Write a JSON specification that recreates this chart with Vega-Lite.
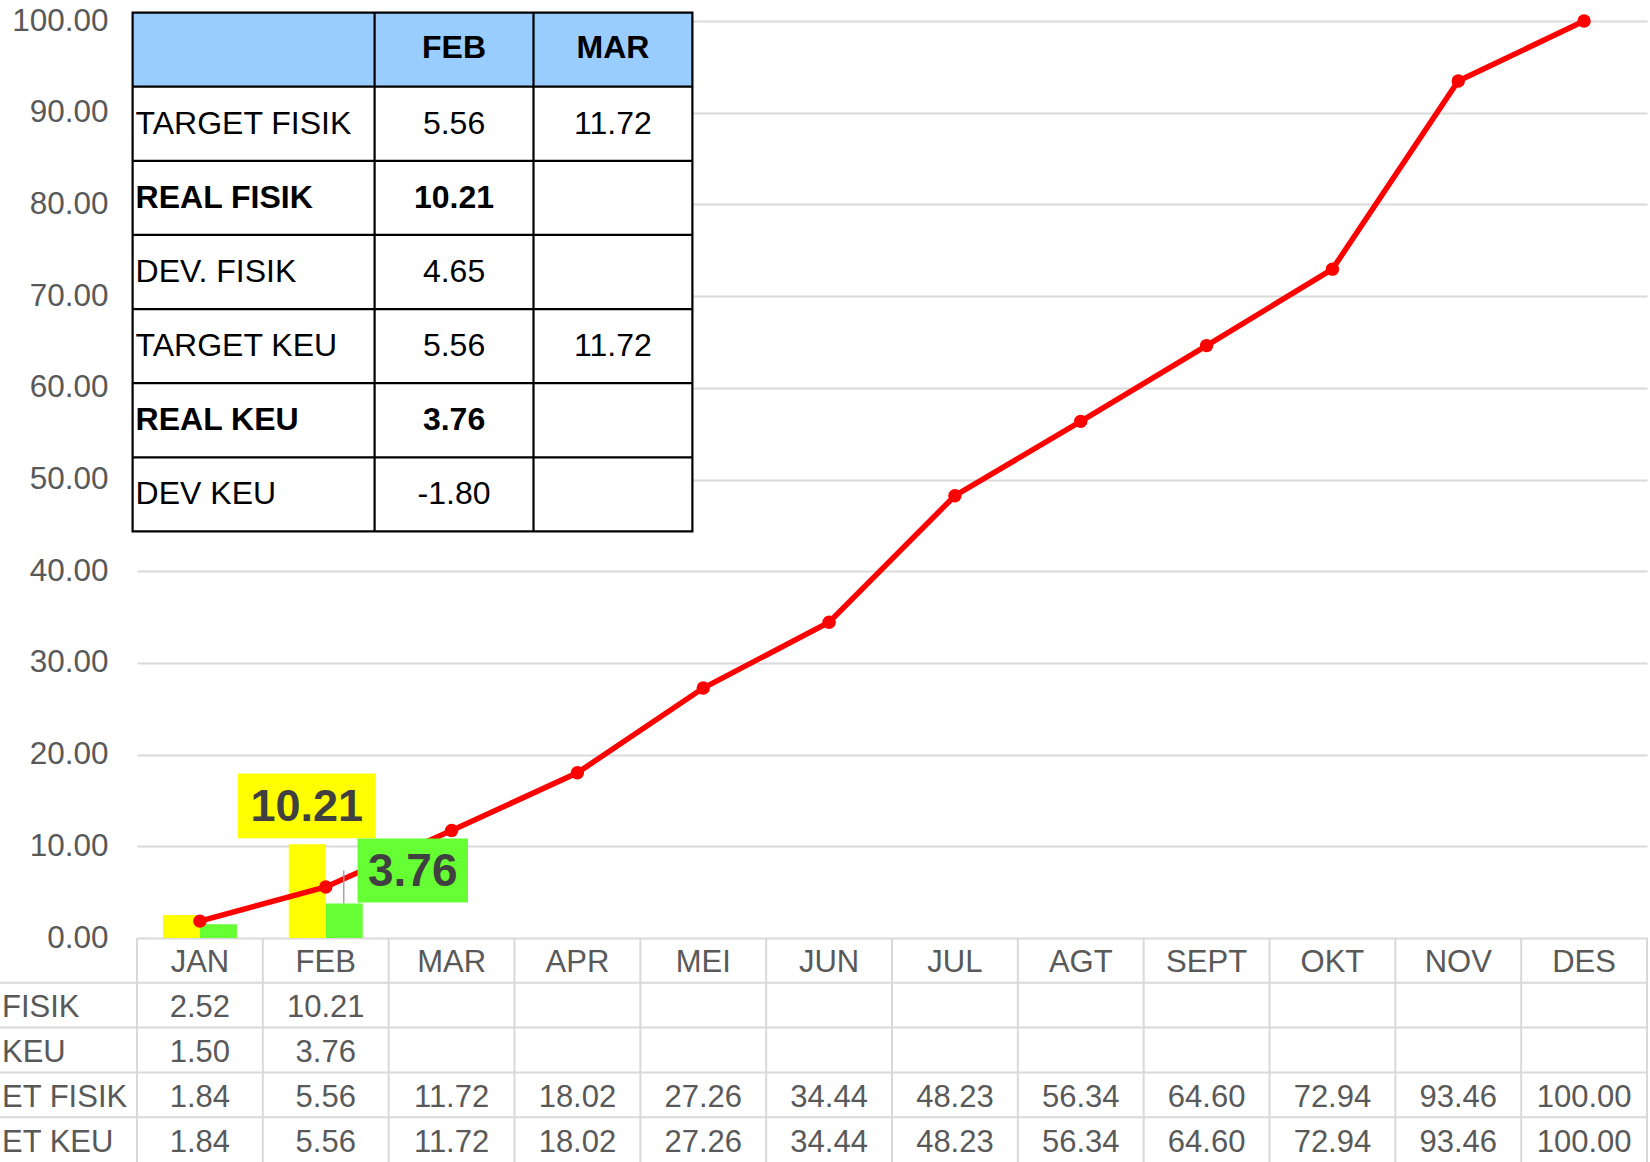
{
  "$schema": "https://vega.github.io/schema/vega-lite/v6.json",
  "width": 1510,
  "height": 1141,
  "autosize": {"type": "none"},
  "padding": {"left": 137, "top": 21, "right": 3, "bottom": 0},
  "background": "#ffffff",
  "config": {
    "view": {"stroke": null},
    "font": "Liberation Sans",
    "locale": {"number": {"decimal": ".", "thousands": ",", "grouping": [3], "currency": ["", ""], "minus": "-"}}
  },
  "datasets": {
    "monthly": [
      {"month": "JAN", "REAL FISIK": 2.52, "REAL KEU": 1.50, "TARGET FISIK": 1.84, "TARGET KEU": 1.84},
      {"month": "FEB", "REAL FISIK": 10.21, "REAL KEU": 3.76, "TARGET FISIK": 5.56, "TARGET KEU": 5.56},
      {"month": "MAR", "REAL FISIK": null, "REAL KEU": null, "TARGET FISIK": 11.72, "TARGET KEU": 11.72},
      {"month": "APR", "REAL FISIK": null, "REAL KEU": null, "TARGET FISIK": 18.02, "TARGET KEU": 18.02},
      {"month": "MEI", "REAL FISIK": null, "REAL KEU": null, "TARGET FISIK": 27.26, "TARGET KEU": 27.26},
      {"month": "JUN", "REAL FISIK": null, "REAL KEU": null, "TARGET FISIK": 34.44, "TARGET KEU": 34.44},
      {"month": "JUL", "REAL FISIK": null, "REAL KEU": null, "TARGET FISIK": 48.23, "TARGET KEU": 48.23},
      {"month": "AGT", "REAL FISIK": null, "REAL KEU": null, "TARGET FISIK": 56.34, "TARGET KEU": 56.34},
      {"month": "SEPT", "REAL FISIK": null, "REAL KEU": null, "TARGET FISIK": 64.60, "TARGET KEU": 64.60},
      {"month": "OKT", "REAL FISIK": null, "REAL KEU": null, "TARGET FISIK": 72.94, "TARGET KEU": 72.94},
      {"month": "NOV", "REAL FISIK": null, "REAL KEU": null, "TARGET FISIK": 93.46, "TARGET KEU": 93.46},
      {"month": "DES", "REAL FISIK": null, "REAL KEU": null, "TARGET FISIK": 100.00, "TARGET KEU": 100.00}
    ],
    "tableRows": [
      {"row": "REAL FISIK", "label": "FISIK"},
      {"row": "REAL KEU", "label": "KEU"},
      {"row": "TARGET FISIK", "label": "ET FISIK"},
      {"row": "TARGET KEU", "label": "ET KEU"}
    ],
    "summary": [
      {"row": "TARGET FISIK", "FEB": 5.56, "MAR": 11.72},
      {"row": "REAL FISIK", "FEB": 10.21, "MAR": null},
      {"row": "DEV. FISIK", "FEB": 4.65, "MAR": null},
      {"row": "TARGET KEU", "FEB": 5.56, "MAR": 11.72},
      {"row": "REAL KEU", "FEB": 3.76, "MAR": null},
      {"row": "DEV KEU", "FEB": -1.80, "MAR": null}
    ]
  },
  "resolve": {
    "scale": {"x": "independent", "y": "independent"},
    "axis": {"x": "independent", "y": "independent"}
  },
  "layer": [
    {
      "data": {"name": "monthly"},
      "transform": [
        {"fold": ["REAL FISIK", "REAL KEU", "TARGET FISIK"], "as": ["series", "value"]},
        {"filter": "isValid(datum.value)"}
      ],
      "encoding": {
        "x": {
          "field": "month", "type": "ordinal",
          "sort": ["JAN", "FEB", "MAR", "APR", "MEI", "JUN", "JUL", "AGT", "SEPT", "OKT", "NOV", "DES"],
          "scale": {"domain": ["JAN", "FEB", "MAR", "APR", "MEI", "JUN", "JUL", "AGT", "SEPT", "OKT", "NOV", "DES"], "paddingInner": 0.412, "paddingOuter": 0.206},
          "axis": null
        },
        "y": {
          "field": "value", "type": "quantitative",
          "scale": {"domain": [0, 100], "range": [917, 0], "nice": false, "zero": true},
          "axis": {
            "values": [0, 10, 20, 30, 40, 50, 60, 70, 80, 90, 100],
            "format": ".2f", "title": null, "domain": false, "ticks": false,
            "labelFontSize": 31.5, "labelColor": "#595959", "labelPadding": 29,
            "labelFont": "Liberation Sans",
            "grid": true, "gridColor": "#d9d9d9", "gridWidth": 2
          }
        }
      },
      "layer": [
        {
          "transform": [{"filter": "datum.series != 'TARGET FISIK'"}],
          "mark": {"type": "bar"},
          "encoding": {
            "xOffset": {"field": "series", "type": "nominal", "scale": {"domain": ["REAL FISIK", "REAL KEU"], "paddingInner": 0, "paddingOuter": 0}},
            "color": {"field": "series", "type": "nominal", "scale": {"domain": ["REAL FISIK", "REAL KEU"], "range": ["#FFFF00", "#66FF33"]}, "legend": null}
          }
        },
        {
          "transform": [{"filter": "datum.series == 'TARGET FISIK'"}],
          "mark": {"type": "line", "color": "#FF0000", "strokeWidth": 5.5}
        },
        {
          "transform": [{"filter": "datum.series == 'TARGET FISIK'"}],
          "mark": {"type": "circle", "color": "#FF0000", "size": 180, "opacity": 1}
        },
        {
          "transform": [{"filter": "datum.month == 'FEB' && datum.series == 'REAL KEU'"}],
          "mark": {"type": "rule", "color": "#a6a6a6", "strokeWidth": 1.5, "xOffset": 18, "y2Offset": -33},
          "encoding": {"y2": {"field": "value"}}
        },
        {
          "transform": [{"filter": "datum.month == 'FEB' && datum.series == 'REAL FISIK'"}],
          "mark": {"type": "point", "shape": "M-1,-0.471H1V0.471H-1Z", "size": 19044, "filled": true, "color": "#FFFF00", "opacity": 1, "strokeWidth": 0, "xOffset": -19, "yOffset": -38.5}
        },
        {
          "transform": [{"filter": "datum.month == 'FEB' && datum.series == 'REAL FISIK'"}],
          "mark": {"type": "text", "fontSize": 45, "fontWeight": "bold", "color": "#404040", "align": "center", "baseline": "middle", "xOffset": -19, "yOffset": -37},
          "encoding": {"text": {"field": "value", "type": "quantitative", "format": ".2f"}}
        },
        {
          "transform": [{"filter": "datum.month == 'FEB' && datum.series == 'REAL KEU'"}],
          "mark": {"type": "point", "shape": "M-1,-0.581H1V0.581H-1Z", "size": 12210, "filled": true, "color": "#66FF33", "opacity": 1, "strokeWidth": 0, "xOffset": 87, "yOffset": -33}
        },
        {
          "transform": [{"filter": "datum.month == 'FEB' && datum.series == 'REAL KEU'"}],
          "mark": {"type": "text", "fontSize": 46, "fontWeight": "bold", "color": "#404040", "align": "center", "baseline": "middle", "xOffset": 87, "yOffset": -31.5},
          "encoding": {"text": {"field": "value", "type": "quantitative", "format": ".2f"}}
        }
      ]
    },
    {
      "data": {"name": "monthly"},
      "transform": [
        {"fold": ["REAL FISIK", "REAL KEU", "TARGET FISIK", "TARGET KEU"], "as": ["row", "value"]}
      ],
      "encoding": {
        "x": {
          "field": "month", "type": "ordinal",
          "sort": ["JAN", "FEB", "MAR", "APR", "MEI", "JUN", "JUL", "AGT", "SEPT", "OKT", "NOV", "DES"],
          "scale": {"domain": ["JAN", "FEB", "MAR", "APR", "MEI", "JUN", "JUL", "AGT", "SEPT", "OKT", "NOV", "DES"], "paddingInner": 0, "paddingOuter": 0},
          "axis": null
        },
        "y": {
          "field": "row", "type": "nominal",
          "scale": {"domain": ["HDR", "REAL FISIK", "REAL KEU", "TARGET FISIK", "TARGET KEU"], "range": [917, 1141], "paddingInner": 0, "paddingOuter": 0},
          "axis": null
        }
      },
      "layer": [
        {
          "data": {"name": "tableRows"},
          "mark": {"type": "rule", "color": "#d9d9d9", "strokeWidth": 2, "xOffset": -137},
          "encoding": {
            "x": {"datum": "JAN", "type": "ordinal", "bandPosition": 0},
            "x2": {"datum": "DES", "bandPosition": 1},
            "y": {"field": "row", "type": "nominal", "bandPosition": 0}
          }
        },
        {
          "transform": [{"filter": "datum.row == 'REAL FISIK'"}],
          "mark": {"type": "rule", "color": "#d9d9d9", "strokeWidth": 2},
          "encoding": {
            "x": {"field": "month", "type": "ordinal", "bandPosition": 0, "sort": ["JAN", "FEB", "MAR", "APR", "MEI", "JUN", "JUL", "AGT", "SEPT", "OKT", "NOV", "DES"]},
            "y": {"datum": "HDR", "type": "nominal", "bandPosition": 0},
            "y2": {"datum": "TARGET KEU", "bandPosition": 1}
          }
        },
        {
          "transform": [{"filter": "datum.row == 'REAL FISIK' && datum.month == 'DES'"}],
          "mark": {"type": "rule", "color": "#d9d9d9", "strokeWidth": 2},
          "encoding": {
            "x": {"field": "month", "type": "ordinal", "bandPosition": 1, "sort": ["JAN", "FEB", "MAR", "APR", "MEI", "JUN", "JUL", "AGT", "SEPT", "OKT", "NOV", "DES"]},
            "y": {"datum": "HDR", "type": "nominal", "bandPosition": 0},
            "y2": {"datum": "TARGET KEU", "bandPosition": 1}
          }
        },
        {
          "transform": [{"filter": "datum.row == 'REAL FISIK'"}],
          "mark": {"type": "text", "fontSize": 31, "color": "#595959", "align": "center", "baseline": "middle", "dy": 3},
          "encoding": {
            "y": {"datum": "HDR", "type": "nominal"},
            "text": {"field": "month", "type": "nominal"}
          }
        },
        {
          "transform": [{"filter": "isValid(datum.value)"}],
          "mark": {"type": "text", "fontSize": 31, "color": "#595959", "align": "center", "baseline": "middle", "dy": 3},
          "encoding": {"text": {"field": "value", "type": "quantitative", "format": ".2f"}}
        },
        {
          "data": {"name": "tableRows"},
          "mark": {"type": "text", "fontSize": 31, "color": "#595959", "align": "left", "baseline": "middle", "xOffset": -135, "dy": 3},
          "encoding": {
            "x": {"datum": "JAN", "type": "ordinal", "bandPosition": 0},
            "text": {"field": "label", "type": "nominal"}
          }
        }
      ]
    },
    {
      "data": {"name": "summary"},
      "encoding": {
        "x": {"field": "col", "type": "nominal", "scale": {"domain": ["FEB", "MAR"], "range": [237.6, 555.4], "paddingInner": 0, "paddingOuter": 0}, "axis": null},
        "y": {"field": "row", "type": "nominal", "scale": {"domain": ["HDR", "TARGET FISIK", "REAL FISIK", "DEV. FISIK", "TARGET KEU", "REAL KEU", "DEV KEU"], "range": [-8.4, 510.4], "paddingInner": 0, "paddingOuter": 0}, "axis": null}
      },
      "layer": [
        {
          "transform": [{"filter": "datum.row == 'TARGET FISIK'"}],
          "mark": {"type": "rect", "fill": "#ffffff", "xOffset": -242},
          "encoding": {
            "x": {"datum": "FEB", "type": "nominal", "bandPosition": 0},
            "x2": {"datum": "MAR", "bandPosition": 1},
            "y": {"datum": "HDR", "type": "nominal", "bandPosition": 0},
            "y2": {"datum": "DEV KEU", "bandPosition": 1}
          }
        },
        {
          "transform": [{"filter": "datum.row == 'TARGET FISIK'"}],
          "mark": {"type": "rect", "fill": "#99CCFF", "xOffset": -242},
          "encoding": {
            "x": {"datum": "FEB", "type": "nominal", "bandPosition": 0},
            "x2": {"datum": "MAR", "bandPosition": 1},
            "y": {"datum": "HDR", "type": "nominal", "bandPosition": 0},
            "y2": {"datum": "HDR", "bandPosition": 1}
          }
        },
        {
          "mark": {"type": "rule", "color": "#000000", "strokeWidth": 2.2, "xOffset": -242},
          "encoding": {
            "x": {"datum": "FEB", "type": "nominal", "bandPosition": 0},
            "x2": {"datum": "MAR", "bandPosition": 1},
            "y": {"field": "row", "type": "nominal", "bandPosition": 0}
          }
        },
        {
          "transform": [
            {"fold": ["FEB", "MAR"], "as": ["col", "value"]},
            {"filter": "datum.row == 'TARGET FISIK'"}
          ],
          "mark": {"type": "rule", "color": "#000000", "strokeWidth": 2.2},
          "encoding": {
            "x": {"field": "col", "type": "nominal", "bandPosition": 0},
            "y": {"datum": "HDR", "type": "nominal", "bandPosition": 0},
            "y2": {"datum": "DEV KEU", "bandPosition": 1}
          }
        },
        {
          "transform": [{"filter": "datum.row == 'TARGET FISIK'"}],
          "mark": {"type": "rect", "fillOpacity": 0, "stroke": "#000000", "strokeWidth": 2.2, "xOffset": -242},
          "encoding": {
            "x": {"datum": "FEB", "type": "nominal", "bandPosition": 0},
            "x2": {"datum": "MAR", "bandPosition": 1},
            "y": {"datum": "HDR", "type": "nominal", "bandPosition": 0},
            "y2": {"datum": "DEV KEU", "bandPosition": 1}
          }
        },
        {
          "transform": [
            {"fold": ["FEB", "MAR"], "as": ["col", "value"]},
            {"filter": "datum.row == 'TARGET FISIK'"}
          ],
          "mark": {"type": "text", "fontSize": 32, "fontWeight": "bold", "color": "#000000", "align": "center", "baseline": "middle", "dy": -2},
          "encoding": {
            "y": {"datum": "HDR", "type": "nominal"},
            "text": {"field": "col", "type": "nominal"}
          }
        },
        {
          "transform": [{"filter": "indexof(datum.row, 'REAL') != 0"}],
          "mark": {"type": "text", "fontSize": 32, "color": "#000000", "align": "left", "baseline": "middle", "xOffset": -239},
          "encoding": {
            "x": {"datum": "FEB", "type": "nominal", "bandPosition": 0},
            "text": {"field": "row", "type": "nominal"}
          }
        },
        {
          "transform": [{"filter": "indexof(datum.row, 'REAL') == 0"}],
          "mark": {"type": "text", "fontSize": 32, "fontWeight": "bold", "color": "#000000", "align": "left", "baseline": "middle", "xOffset": -239},
          "encoding": {
            "x": {"datum": "FEB", "type": "nominal", "bandPosition": 0},
            "text": {"field": "row", "type": "nominal"}
          }
        },
        {
          "transform": [
            {"fold": ["FEB", "MAR"], "as": ["col", "value"]},
            {"filter": "isValid(datum.value) && indexof(datum.row, 'REAL') != 0"}
          ],
          "mark": {"type": "text", "fontSize": 32, "color": "#000000", "align": "center", "baseline": "middle"},
          "encoding": {"text": {"field": "value", "type": "quantitative", "format": ".2f"}}
        },
        {
          "transform": [
            {"fold": ["FEB", "MAR"], "as": ["col", "value"]},
            {"filter": "isValid(datum.value) && indexof(datum.row, 'REAL') == 0"}
          ],
          "mark": {"type": "text", "fontSize": 32, "fontWeight": "bold", "color": "#000000", "align": "center", "baseline": "middle"},
          "encoding": {"text": {"field": "value", "type": "quantitative", "format": ".2f"}}
        }
      ]
    }
  ]
}
